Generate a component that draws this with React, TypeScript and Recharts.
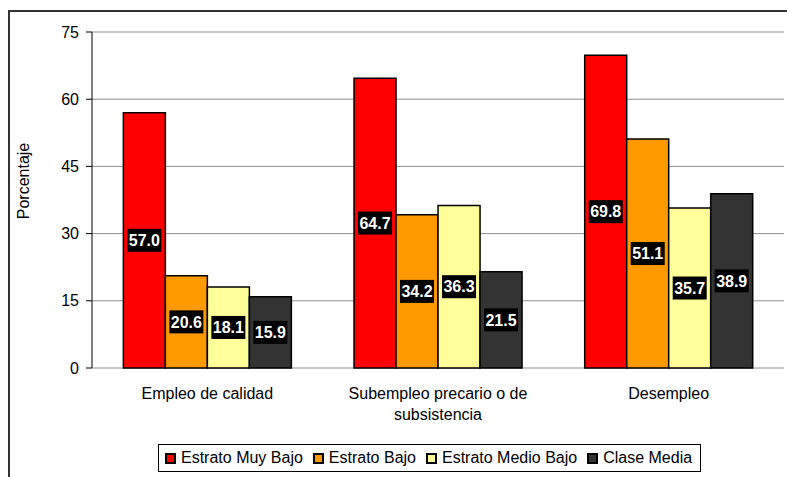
import { BarChart, Bar, XAxis, YAxis, CartesianGrid, Legend, LabelList } from 'recharts';

const FONT = '"Liberation Sans", Arial, sans-serif';

const categories = ['Empleo de calidad', 'Subempleo precario o de subsistencia', 'Desempleo'];
const muyBajo = [57.0, 64.7, 69.8];
const bajo = [20.6, 34.2, 51.1];
const medioBajo = [18.1, 36.3, 35.7];
const claseMedia = [15.9, 21.5, 38.9];
const yTicks = [0, 15, 30, 45, 60, 75];

const seriesNames = ['Estrato Muy Bajo', 'Estrato Bajo', 'Estrato Medio Bajo', 'Clase Media'];
const seriesKeys = ['muyBajo', 'bajo', 'medioBajo', 'claseMedia'];
const seriesColors = ['#FF0000', '#FF9900', '#FFFF99', '#333333'];

const data = categories.map((name, i) => ({
  name,
  muyBajo: muyBajo[i],
  bajo: bajo[i],
  medioBajo: medioBajo[i],
  claseMedia: claseMedia[i],
}));

// boundaries between categories, for the tick marks on the x axis
const sepTicks = [...categories.map((_, i) => i), categories.length];

// split a category name into lines of at most maxChars
function wrap(text: string, maxChars: number) {
  const lines: string[] = [];
  let cur = '';
  text.split(' ').forEach(w => {
    const next = cur ? cur + ' ' + w : w;
    if (next.length > maxChars && cur) {
      lines.push(cur);
      cur = w;
    } else {
      cur = next;
    }
  });
  if (cur) lines.push(cur);
  return lines;
}

const CategoryTick = (props: any) => {
  const { x, y, payload } = props;
  const lines = wrap(payload.value, 24);
  return (
    <text x={x} y={y} textAnchor="middle" fontSize={16} fontFamily={FONT} fill="#000">
      {lines.map((l, i) => (
        <tspan key={i} x={x} dy={i === 0 ? 30.5 : 21}>
          {l}
        </tspan>
      ))}
    </text>
  );
};

const ValueLabel = (props: any) => {
  const { x, y, width, height, value } = props;
  const cx = x + width / 2;
  const cy = y + height / 2;
  return (
    <g>
      <rect x={cx - 17} y={cy - 11.5} width={34} height={23} fill="#000" />
      <text
        x={cx}
        y={cy}
        dy="0.36em"
        textAnchor="middle"
        fontSize={16}
        fontWeight="bold"
        fontFamily={FONT}
        fill="#fff"
      >
        {Number(value).toFixed(1)}
      </text>
    </g>
  );
};

const YLabel = (props: any) => {
  const { viewBox } = props;
  const x = viewBox.x + 15;
  const y = viewBox.y + viewBox.height / 2 - 19;
  return (
    <text
      x={x}
      y={y}
      transform={`rotate(-90, ${x}, ${y})`}
      textAnchor="middle"
      dy="0.35em"
      fontSize={16}
      fontFamily={FONT}
      fill="#000"
    >
      Porcentaje
    </text>
  );
};

// legend in series order, framed like the original
const LegendBox = () => (
  <div
    style={{
      boxSizing: 'border-box',
      border: '1px solid #000',
      height: 28,
      display: 'flex',
      alignItems: 'center',
      paddingLeft: 6,
      fontFamily: FONT,
      fontSize: 16,
      color: '#000',
      background: '#fff',
      whiteSpace: 'nowrap',
    }}
  >
    {seriesNames.map((n, i) => (
      <span key={n} style={{ display: 'flex', alignItems: 'center', marginRight: 10 }}>
        <span
          style={{
            display: 'inline-block',
            width: 11,
            height: 11,
            boxSizing: 'border-box',
            border: '2px solid #000',
            background: seriesColors[i],
            marginRight: 5,
          }}
        />
        {n}
      </span>
    ))}
  </div>
);

export default function App() {
  return (
    <div
      style={{
        position: 'fixed',
        left: 0,
        top: 0,
        width: 787,
        height: 477,
        overflow: 'hidden',
        background: '#fff',
      }}
    >
      <div
        style={{
          position: 'absolute',
          left: 8,
          top: 10,
          width: 800,
          height: 500,
          border: '2px solid #333',
        }}
      />
      <div style={{ position: 'absolute', left: 0, top: 0 }}>
        <BarChart
          width={787}
          height={477}
          data={data}
          margin={{ top: 32, right: 3, left: 8, bottom: 49 }}
          barCategoryGap="13.6%"
          barGap={0}
        >
          <CartesianGrid vertical={false} stroke="#909090" />
          <XAxis
            xAxisId="sep"
            type="number"
            domain={[0, categories.length]}
            ticks={sepTicks}
            tick={false}
            tickSize={6}
            height={0}
            axisLine={{ stroke: '#000' }}
            tickLine={{ stroke: '#000' }}
          />
          <XAxis
            dataKey="name"
            interval={0}
            axisLine={false}
            tickLine={false}
            tickSize={0}
            tickMargin={0}
            height={60}
            tick={<CategoryTick />}
          />
          <YAxis
            domain={[0, 75]}
            ticks={yTicks}
            width={84}
            tickSize={6}
            tickMargin={7}
            axisLine={{ stroke: '#000' }}
            tickLine={{ stroke: '#000' }}
            tick={{ fontSize: 16, fontFamily: FONT, fill: '#000' }}
            label={<YLabel />}
          />
          <YAxis
            yAxisId="right"
            orientation="right"
            domain={[0, 75]}
            width={0}
            tick={false}
            tickLine={false}
            axisLine={{ stroke: '#909090' }}
          />
          <Legend
            layout="horizontal"
            verticalAlign="middle"
            align="center"
            wrapperStyle={{ left: 158, top: 444, width: 543, height: 28 }}
            content={<LegendBox />}
          />
          {seriesKeys.map((k, i) => (
            <Bar
              key={k}
              dataKey={k}
              name={seriesNames[i]}
              fill={seriesColors[i]}
              stroke="#000"
              strokeWidth={1.5}
              isAnimationActive={false}
            >
              <LabelList dataKey={k} content={<ValueLabel />} />
            </Bar>
          ))}
        </BarChart>
      </div>
    </div>
  );
}
